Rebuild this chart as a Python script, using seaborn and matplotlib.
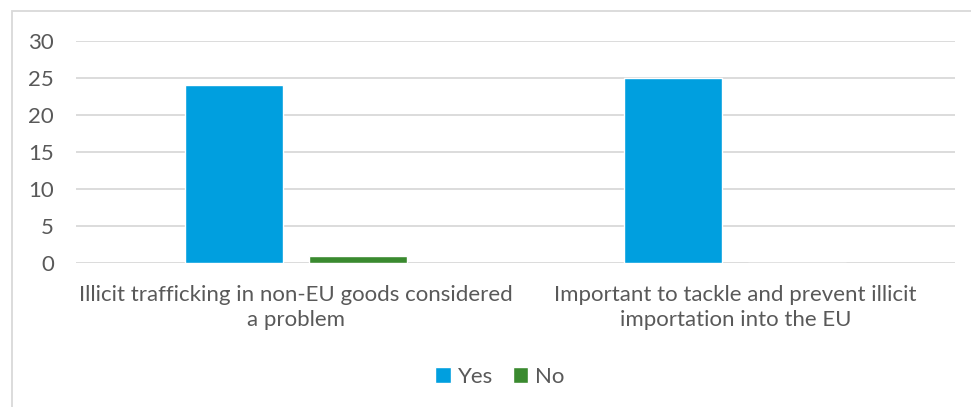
import matplotlib
matplotlib.use("Agg")
import matplotlib.pyplot as plt
from matplotlib.patches import Rectangle
import seaborn as sns
import pandas as pd

categories = [
    "Illicit trafficking in non-EU goods considered\na problem",
    "Important to tackle and prevent illicit\nimportation into the EU",
]
yes_counts = [24, 25]
no_counts = [1, 0]
series_names = ["Yes", "No"]
series_colors = ["#009FDF", "#3A8A2F"]
y_ticks = [0, 5, 10, 15, 20, 25, 30]

df = pd.DataFrame({
    "category": categories * 2,
    "answer": [series_names[0]] * len(categories) + [series_names[1]] * len(categories),
    "count": yes_counts + no_counts,
})

sns.set_theme(style="white")
plt.rcParams["font.family"] = ["Lato", "DejaVu Sans"]
text_color = "#595959"
grid_color = "#D9D9D9"
fs = 16

fig = plt.figure(figsize=(9.71, 4.07), dpi=100)
W, H = 971, 407
ax = fig.add_axes([76 / W, 1 - 263 / H, (955 - 76) / W, (263 - 41) / H])

sns.barplot(
    data=df, x="category", y="count", hue="answer",
    order=categories, hue_order=series_names,
    palette=dict(zip(series_names, series_colors)),
    width=0.564, gap=0.21, saturation=1, ax=ax, legend=True,
)

ax.set_ylim(0, 30)
ax.set_xlim(-0.5, 1.5)
ax.set_yticks(y_ticks)
ax.set_yticklabels([str(v) for v in y_ticks])
for y in y_ticks:
    ax.axhline(y, color=grid_color, lw=1.3, zorder=0)
for s in ax.spines.values():
    s.set_visible(False)
ax.set_xlabel("")
ax.set_ylabel("")
ax.tick_params(axis="both", length=0, labelsize=fs, colors=text_color)
ax.tick_params(axis="y", pad=16)
ax.tick_params(axis="x", pad=16)
for lbl in ax.get_xticklabels():
    lbl.set_linespacing(1.3)

handles, labels = ax.get_legend_handles_labels()
ax.legend_.remove()
fig.legend(
    handles, labels, loc="center", bbox_to_anchor=(500 / W, 1 - 377 / H),
    ncol=2, frameon=False, fontsize=fs, handlelength=0.7, handleheight=0.7,
    handletextpad=0.3, columnspacing=0.9, labelcolor=text_color,
)

# chart frame
fig.patches.append(Rectangle((12 / W, -0.05), 1.2, 1 - 11 / H + 0.05,
                             transform=fig.transFigure, fill=False,
                             edgecolor=grid_color, lw=1.3))

fig.savefig("out.png", dpi=100, facecolor="white")
